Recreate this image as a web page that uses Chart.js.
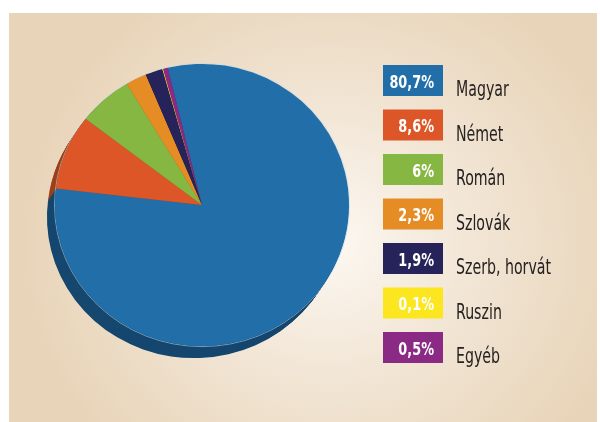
<!DOCTYPE html>
<html>
<head>
<meta charset="utf-8">
<script src="https://cdn.jsdelivr.net/npm/chart.js@4/dist/chart.umd.min.js"></script>
<style>
  html, body { margin: 0; padding: 0; background: #fff; }
  #wrap { position: relative; width: 600px; height: 422px; }
  #bg {
    position: absolute; left: 9px; top: 13px; width: 588px; height: 409px;
    background: radial-gradient(ellipse 310px 290px at 320px 230px, #fcf8f2 0%, #f2e6d6 45%, #e8d4b8 100%);
  }
  #chart { position: absolute; left: 0; top: 0; }
</style>
</head>
<body>
<div id="wrap">
  <div id="bg"></div>
  <canvas id="chart" width="600" height="422"></canvas>
</div>
<script>
const labels = ['Magyar', 'Német', 'Román', 'Szlovák', 'Szerb, horvát', 'Ruszin', 'Egyéb'];
const values = [80.7, 8.6, 6, 2.3, 1.9, 0.1, 0.5];
const percentLabels = ['80,7%', '8,6%', '6%', '2,3%', '1,9%', '0,1%', '0,5%'];
const colors = ['#226ea8', '#dd5628', '#86b743', '#e68c25', '#25235a', '#fbe61f', '#8a2a85'];
const sideColors = ['#15476f', '#9c4019', '#557a28', '#9a5a14', '#151435', '#a89a10', '#5a1a57'];

const NARROW = '"Liberation Sans Narrow", "DejaVu Sans Condensed", "Arial Narrow", sans-serif';
const TILT = 0.96;       // top face is a bit flatter than a circle
const DEPTH_X = -8;      // extrusion goes down and to the left
const DEPTH_Y = 12;

// squash the pie vertically around its centre
const tiltPlugin = {
  id: 'tilt',
  beforeDatasetsDraw(chart) {
    const arc = chart.getDatasetMeta(0).data[0];
    const ctx = chart.ctx;
    ctx.save();
    ctx.translate(arc.x, arc.y);
    ctx.scale(1, TILT);
    ctx.translate(-arc.x, -arc.y);

    // side of the "3D" pie, built from the arcs Chart.js laid out
    const arcs = chart.getDatasetMeta(0).data;
    const steps = 16;
    for (let s = steps; s >= 1; s--) {
      const t = s / steps;
      const dx = DEPTH_X * t;
      const dy = DEPTH_Y * t / TILT;
      arcs.forEach((a, i) => {
        ctx.beginPath();
        ctx.moveTo(a.x + dx, a.y + dy);
        ctx.arc(a.x + dx, a.y + dy, a.outerRadius, a.startAngle, a.endAngle);
        ctx.closePath();
        ctx.fillStyle = sideColors[i];
        ctx.fill();
      });
    }
    // thin light rim between side and top face
    const a0 = arcs[0];
    ctx.beginPath();
    ctx.arc(a0.x, a0.y, a0.outerRadius + 0.5, 0, Math.PI * 2);
    ctx.strokeStyle = 'rgba(190,215,235,0.6)';
    ctx.lineWidth = 1;
    ctx.stroke();
  },
  afterDatasetsDraw(chart) {
    chart.ctx.restore();
  }
};

// legend: coloured boxes with the share inside, name to the right
const boxLegend = {
  id: 'boxLegend',
  afterDraw(chart) {
    const ctx = chart.ctx;
    const boxX = 383, boxW = 60, boxH = 31, top0 = 65, pitch = 44.5;
    ctx.save();
    labels.forEach((name, i) => {
      const y = top0 + i * pitch;
      ctx.fillStyle = colors[i];
      ctx.fillRect(boxX, y, boxW, boxH);

      ctx.font = 'bold 17px ' + NARROW;
      ctx.fillStyle = '#ffffff';
      ctx.textAlign = 'right';
      ctx.textBaseline = 'alphabetic';
      const pw = ctx.measureText(percentLabels[i]).width;
      ctx.fillText(percentLabels[i], boxX + 51, y + 22.5, pw * 0.84);

      ctx.font = '21px ' + NARROW;
      ctx.fillStyle = '#262222';
      ctx.textAlign = 'left';
      const lw = ctx.measureText(name).width;
      ctx.fillText(name, 456, y + 31, lw * 0.75);
    });
    ctx.restore();
  }
};

new Chart(document.getElementById('chart'), {
  type: 'pie',
  data: {
    labels: labels,
    datasets: [{
      data: values,
      backgroundColor: colors,
      borderWidth: 0
    }]
  },
  options: {
    responsive: false,
    animation: false,
    rotation: -13.5,
    layout: { padding: { left: 55, right: 251, top: 58, bottom: 70 } },
    plugins: {
      legend: { display: false },
      tooltip: { enabled: false }
    }
  },
  plugins: [tiltPlugin, boxLegend]
});
</script>
</body>
</html>
